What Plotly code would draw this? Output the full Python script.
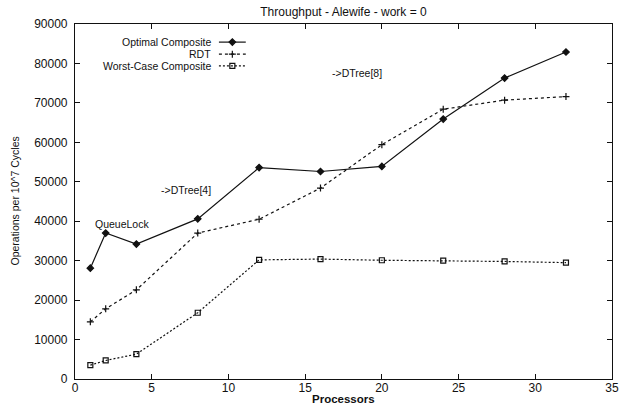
import plotly.graph_objects as go

# Throughput measurements on Alewife (work = 0)
processors = [1, 2, 4, 8, 12, 16, 20, 24, 28, 32]
optimal_composite = [28100, 37000, 34200, 40600, 53600, 52600, 53900, 65900, 76300, 82900]
rdt = [14500, 17800, 22600, 37000, 40500, 48400, 59400, 68400, 70700, 71600]
worst_case_composite = [3500, 4700, 6300, 16800, 30200, 30400, 30100, 30000, 29800, 29500]

series_names = ["Optimal Composite", "RDT", "Worst-Case Composite"]
x_ticks = [0, 5, 10, 15, 20, 25, 30, 35]
y_ticks = [0, 10000, 20000, 30000, 40000, 50000, 60000, 70000, 80000, 90000]

FONT = "Liberation Sans, Arial, Helvetica, sans-serif"
INK = "#111111"
W, H = 621, 407
M = dict(l=75, r=9, t=24, b=28)

styles = [
    dict(dash="solid", symbol="diamond", size=5),
    dict(dash="3px,3px", symbol="cross-thin", size=5),
    dict(dash="2px,2px", symbol="square-open", size=5),
]
values = [optimal_composite, rdt, worst_case_composite]

fig = go.Figure()

for name, ys, st in zip(series_names, values, styles):
    fig.add_trace(go.Scatter(
        x=processors, y=ys, name=name, mode="lines+markers",
        line=dict(color=INK, width=1.2, dash=st["dash"]),
        marker=dict(symbol=st["symbol"], size=st["size"], color=INK,
                    line=dict(color=INK, width=1.2)),
        showlegend=False, cliponaxis=False,
    ))

# gnuplot-style key: right-aligned label followed by a line sample
key_rows = [0.949, 0.915, 0.882]
for name, st, ky in zip(series_names, styles, key_rows):
    fig.add_trace(go.Scatter(
        x=[0.268, 0.318], y=[ky, ky], xaxis="x2", yaxis="y2",
        mode="lines", line=dict(color=INK, width=1.2, dash=st["dash"]),
        showlegend=False, hoverinfo="skip",
    ))
    fig.add_trace(go.Scatter(
        x=[0.293], y=[ky], xaxis="x2", yaxis="y2", mode="markers",
        marker=dict(symbol=st["symbol"], size=st["size"], color=INK,
                    line=dict(color=INK, width=1.2)),
        showlegend=False, hoverinfo="skip",
    ))
    fig.add_annotation(
        x=0.257, y=ky, xref="x2", yref="y2", text=name, showarrow=False,
        xanchor="right", yanchor="middle",
        font=dict(family=FONT, size=10.5, color=INK),
    )

# Text labels placed in data space
for txt, lx, ly in [("QueueLock", 1.15, 39200), ("->DTree[4]", 5.45, 48000),
                    ("->DTree[8]", 16.6, 77700)]:
    fig.add_annotation(
        x=lx, y=ly, text=txt, showarrow=False, xanchor="left", yanchor="middle",
        font=dict(family=FONT, size=10.5, color=INK),
    )

# Axis titles as free text in the margins
plot_w = W - M["l"] - M["r"]
plot_h = H - M["t"] - M["b"]
fig.add_annotation(
    text="<b>Processors</b>", xref="paper", yref="paper",
    x=0.5, y=-(399 - (H - M["b"])) / plot_h, xanchor="center", yanchor="middle",
    showarrow=False, font=dict(family=FONT, size=11.5, color=INK),
)
fig.add_annotation(
    text="Operations per 10^7 Cycles", xref="paper", yref="paper",
    x=-(M["l"] - 14) / plot_w, y=0.5, xanchor="center", yanchor="middle",
    textangle=-90, showarrow=False, font=dict(family=FONT, size=10.5, color=INK),
)

axis_common = dict(
    showgrid=False, zeroline=False, showline=True, linecolor=INK, linewidth=1.2,
    mirror="ticks", ticks="inside", ticklen=5, tickcolor=INK, tickwidth=1,
    tickfont=dict(family=FONT, size=12, color=INK), automargin=False,
)

fig.update_layout(
    width=W, height=H,
    margin=M,
    paper_bgcolor="white", plot_bgcolor="white",
    title=dict(text="Throughput - Alewife - work = 0", x=0.5, xref="paper",
               xanchor="center", y=1 - 12 / H, yanchor="middle",
               font=dict(family=FONT, size=12, color=INK), automargin=False),
    xaxis=dict(range=[0, 35], tickvals=x_ticks, ticktext=[str(v) for v in x_ticks],
               ticklabelstandoff=-3, **axis_common),
    yaxis=dict(range=[0, 90000], tickvals=y_ticks, ticktext=[str(v) for v in y_ticks],
               ticklabelstandoff=4, **axis_common),
    xaxis2=dict(range=[0, 1], overlaying="x", visible=False, fixedrange=True),
    yaxis2=dict(range=[0, 1], overlaying="y", visible=False, fixedrange=True),
    showlegend=False,
)

fig.write_html("out.html")
